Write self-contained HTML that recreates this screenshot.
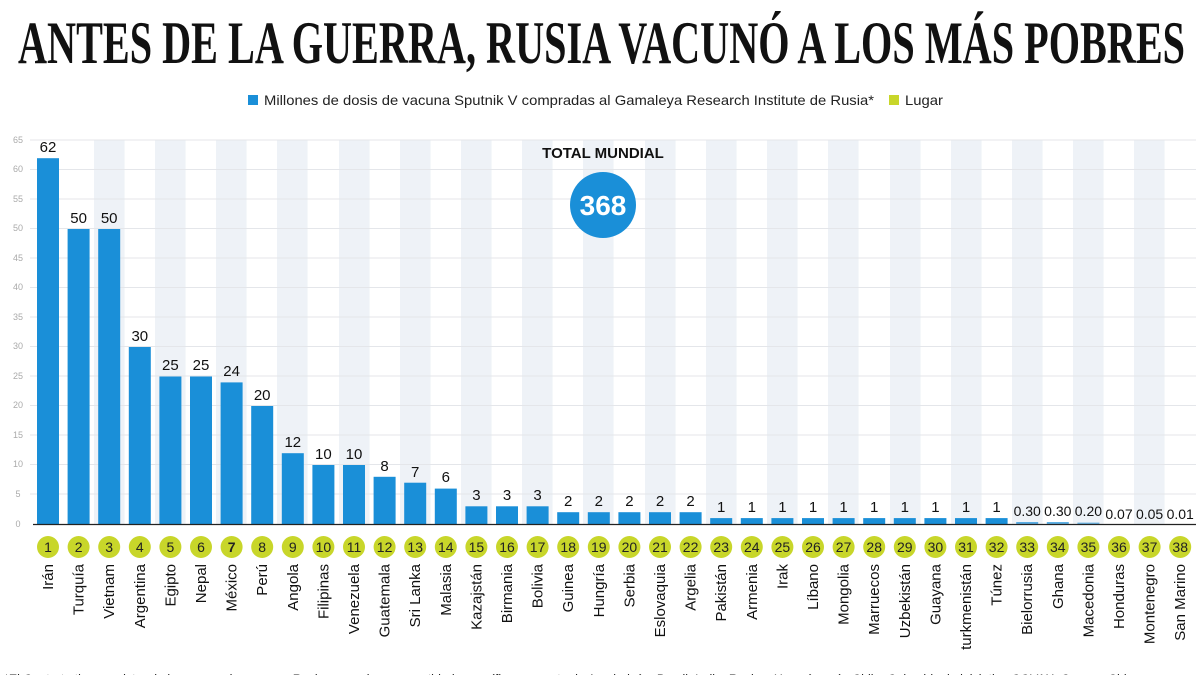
<!DOCTYPE html>
<html><head><meta charset="utf-8"><style>
html,body{margin:0;padding:0;background:#fff;width:1200px;height:675px;overflow:hidden}
svg{display:block;font-family:"Liberation Sans",sans-serif}
.v{font-size:15px;text-anchor:middle;fill:#111}
.vs{font-size:14px;text-anchor:middle;fill:#111}
.n{font-size:14px;text-anchor:middle;fill:#222}
.c{font-size:15px;text-anchor:end;fill:#111}
.y{font-size:9px;fill:#aaa;text-anchor:middle}
</style></head><body>
<svg width="1200" height="675" viewBox="0 0 1200 675">
<text x="18" y="63" font-family="Liberation Serif" font-weight="bold" font-size="60" textLength="1167" lengthAdjust="spacingAndGlyphs" fill="#111">ANTES DE LA GUERRA, RUSIA VACUNÓ A LOS MÁS POBRES</text>
<rect x="248" y="95" width="10" height="10" fill="#1a8fd8"/>
<text x="264" y="105" font-size="14" textLength="610" lengthAdjust="spacingAndGlyphs" fill="#222">Millones de dosis de vacuna Sputnik V compradas al Gamaleya Research Institute de Rusia*</text>
<rect x="889" y="95" width="10" height="10" fill="#c8d62a"/>
<text x="905" y="105" font-size="14" textLength="38" lengthAdjust="spacingAndGlyphs" fill="#222">Lugar</text>
<!-- bands -->
<g fill="#eef2f7">
<rect x="94" y="140" width="30.6" height="384"/><rect x="155" y="140" width="30.6" height="384"/><rect x="216" y="140" width="30.6" height="384"/><rect x="277" y="140" width="30.6" height="384"/><rect x="339" y="140" width="30.6" height="384"/><rect x="400" y="140" width="30.6" height="384"/><rect x="461" y="140" width="30.6" height="384"/><rect x="522" y="140" width="30.6" height="384"/><rect x="583" y="140" width="30.6" height="384"/><rect x="645" y="140" width="30.6" height="384"/><rect x="706" y="140" width="30.6" height="384"/><rect x="767" y="140" width="30.6" height="384"/><rect x="828" y="140" width="30.6" height="384"/><rect x="890" y="140" width="30.6" height="384"/><rect x="951" y="140" width="30.6" height="384"/><rect x="1012" y="140" width="30.6" height="384"/><rect x="1073" y="140" width="30.6" height="384"/><rect x="1134" y="140" width="30.6" height="384"/>
</g>
<g stroke="#e4e6ea" stroke-width="1">
<line x1="30" x2="1196" y1="140" y2="140"/><line x1="30" x2="1196" y1="169.5" y2="169.5"/><line x1="30" x2="1196" y1="199" y2="199"/><line x1="30" x2="1196" y1="228.5" y2="228.5"/><line x1="30" x2="1196" y1="258" y2="258"/><line x1="30" x2="1196" y1="287.5" y2="287.5"/><line x1="30" x2="1196" y1="317" y2="317"/><line x1="30" x2="1196" y1="346.5" y2="346.5"/><line x1="30" x2="1196" y1="376" y2="376"/><line x1="30" x2="1196" y1="405.5" y2="405.5"/><line x1="30" x2="1196" y1="435" y2="435"/><line x1="30" x2="1196" y1="464.5" y2="464.5"/><line x1="30" x2="1196" y1="494" y2="494"/>
</g>
<g class="y">
<text class="y" x="18" y="143">65</text><text class="y" x="18" y="172">60</text><text class="y" x="18" y="202">55</text><text class="y" x="18" y="231">50</text><text class="y" x="18" y="261">45</text><text class="y" x="18" y="290">40</text><text class="y" x="18" y="320">35</text><text class="y" x="18" y="349">30</text><text class="y" x="18" y="379">25</text><text class="y" x="18" y="408">20</text><text class="y" x="18" y="438">15</text><text class="y" x="18" y="467">10</text><text class="y" x="18" y="497">5</text><text class="y" x="18" y="527">0</text>
</g>
<text x="603" y="158" font-size="15" font-weight="bold" text-anchor="middle" fill="#111">TOTAL MUNDIAL</text>
<circle cx="603" cy="205" r="33" fill="#1a8fd8"/>
<text x="603" y="215" font-size="28" font-weight="bold" text-anchor="middle" fill="#fff">368</text>
<g fill="#1a8fd8">
<rect x="37" y="158.2" width="22" height="365.8"/><rect x="67.6" y="229" width="22" height="295"/><rect x="98.2" y="229" width="22" height="295"/><rect x="128.8" y="347" width="22" height="177"/><rect x="159.4" y="376.5" width="22" height="147.5"/><rect x="190" y="376.5" width="22" height="147.5"/><rect x="220.6" y="382.4" width="22" height="141.6"/><rect x="251.2" y="406" width="22" height="118"/><rect x="281.8" y="453.2" width="22" height="70.8"/><rect x="312.4" y="465" width="22" height="59"/><rect x="343" y="465" width="22" height="59"/><rect x="373.6" y="476.8" width="22" height="47.2"/><rect x="404.2" y="482.7" width="22" height="41.3"/><rect x="434.8" y="488.6" width="22" height="35.4"/><rect x="465.4" y="506.3" width="22" height="17.7"/><rect x="496" y="506.3" width="22" height="17.7"/><rect x="526.6" y="506.3" width="22" height="17.7"/><rect x="557.2" y="512.2" width="22" height="11.8"/><rect x="587.8" y="512.2" width="22" height="11.8"/><rect x="618.4" y="512.2" width="22" height="11.8"/><rect x="649" y="512.2" width="22" height="11.8"/><rect x="679.6" y="512.2" width="22" height="11.8"/><rect x="710.2" y="518.1" width="22" height="5.9"/><rect x="740.8" y="518.1" width="22" height="5.9"/><rect x="771.4" y="518.1" width="22" height="5.9"/><rect x="802" y="518.1" width="22" height="5.9"/><rect x="832.6" y="518.1" width="22" height="5.9"/><rect x="863.2" y="518.1" width="22" height="5.9"/><rect x="893.8" y="518.1" width="22" height="5.9"/><rect x="924.4" y="518.1" width="22" height="5.9"/><rect x="955" y="518.1" width="22" height="5.9"/><rect x="985.6" y="518.1" width="22" height="5.9"/><rect x="1016.2" y="522" width="22" height="2" opacity=".7"/><rect x="1046.8" y="522" width="22" height="2" opacity=".7"/><rect x="1077.4" y="522.6" width="22" height="1.4" opacity=".6"/>
</g>
<line x1="33" x2="1196" y1="524.5" y2="524.5" stroke="#222" stroke-width="1.2"/>
<g>
<text class="v" x="48" y="152">62</text><text class="v" x="78.6" y="223">50</text><text class="v" x="109.2" y="223">50</text><text class="v" x="139.8" y="341">30</text><text class="v" x="170.4" y="370">25</text><text class="v" x="201" y="370">25</text><text class="v" x="231.6" y="376">24</text><text class="v" x="262.2" y="400">20</text><text class="v" x="292.8" y="447">12</text><text class="v" x="323.4" y="459">10</text><text class="v" x="354" y="459">10</text><text class="v" x="384.6" y="471">8</text><text class="v" x="415.2" y="477">7</text><text class="v" x="445.8" y="482">6</text><text class="v" x="476.4" y="500">3</text><text class="v" x="507" y="500">3</text><text class="v" x="537.6" y="500">3</text><text class="v" x="568.2" y="506">2</text><text class="v" x="598.8" y="506">2</text><text class="v" x="629.4" y="506">2</text><text class="v" x="660" y="506">2</text><text class="v" x="690.6" y="506">2</text><text class="v" x="721.2" y="512">1</text><text class="v" x="751.8" y="512">1</text><text class="v" x="782.4" y="512">1</text><text class="v" x="813" y="512">1</text><text class="v" x="843.6" y="512">1</text><text class="v" x="874.2" y="512">1</text><text class="v" x="904.8" y="512">1</text><text class="v" x="935.4" y="512">1</text><text class="v" x="966" y="512">1</text><text class="v" x="996.6" y="512">1</text>
<text class="vs" x="1027.2" y="516">0.30</text><text class="vs" x="1057.8" y="516">0.30</text><text class="vs" x="1088.4" y="516">0.20</text><text class="vs" x="1119" y="519">0.07</text><text class="vs" x="1149.6" y="519">0.05</text><text class="vs" x="1180.2" y="519">0.01</text>
</g>
<g fill="#c8d62a">
<circle cx="48" cy="547" r="11"/><circle cx="78.6" cy="547" r="11"/><circle cx="109.2" cy="547" r="11"/><circle cx="139.8" cy="547" r="11"/><circle cx="170.4" cy="547" r="11"/><circle cx="201" cy="547" r="11"/><circle cx="231.6" cy="547" r="11"/><circle cx="262.2" cy="547" r="11"/><circle cx="292.8" cy="547" r="11"/><circle cx="323.4" cy="547" r="11"/><circle cx="354" cy="547" r="11"/><circle cx="384.6" cy="547" r="11"/><circle cx="415.2" cy="547" r="11"/><circle cx="445.8" cy="547" r="11"/><circle cx="476.4" cy="547" r="11"/><circle cx="507" cy="547" r="11"/><circle cx="537.6" cy="547" r="11"/><circle cx="568.2" cy="547" r="11"/><circle cx="598.8" cy="547" r="11"/><circle cx="629.4" cy="547" r="11"/><circle cx="660" cy="547" r="11"/><circle cx="690.6" cy="547" r="11"/><circle cx="721.2" cy="547" r="11"/><circle cx="751.8" cy="547" r="11"/><circle cx="782.4" cy="547" r="11"/><circle cx="813" cy="547" r="11"/><circle cx="843.6" cy="547" r="11"/><circle cx="874.2" cy="547" r="11"/><circle cx="904.8" cy="547" r="11"/><circle cx="935.4" cy="547" r="11"/><circle cx="966" cy="547" r="11"/><circle cx="996.6" cy="547" r="11"/><circle cx="1027.2" cy="547" r="11"/><circle cx="1057.8" cy="547" r="11"/><circle cx="1088.4" cy="547" r="11"/><circle cx="1119" cy="547" r="11"/><circle cx="1149.6" cy="547" r="11"/><circle cx="1180.2" cy="547" r="11"/>
</g>
<g>
<text class="n" x="48" y="552">1</text><text class="n" x="78.6" y="552">2</text><text class="n" x="109.2" y="552">3</text><text class="n" x="139.8" y="552">4</text><text class="n" x="170.4" y="552">5</text><text class="n" x="201" y="552">6</text><text class="n" x="231.6" y="552" font-weight="bold">7</text><text class="n" x="262.2" y="552">8</text><text class="n" x="292.8" y="552">9</text><text class="n" x="323.4" y="552">10</text><text class="n" x="354" y="552">11</text><text class="n" x="384.6" y="552">12</text><text class="n" x="415.2" y="552">13</text><text class="n" x="445.8" y="552">14</text><text class="n" x="476.4" y="552">15</text><text class="n" x="507" y="552">16</text><text class="n" x="537.6" y="552">17</text><text class="n" x="568.2" y="552">18</text><text class="n" x="598.8" y="552">19</text><text class="n" x="629.4" y="552">20</text><text class="n" x="660" y="552">21</text><text class="n" x="690.6" y="552">22</text><text class="n" x="721.2" y="552">23</text><text class="n" x="751.8" y="552">24</text><text class="n" x="782.4" y="552">25</text><text class="n" x="813" y="552">26</text><text class="n" x="843.6" y="552">27</text><text class="n" x="874.2" y="552">28</text><text class="n" x="904.8" y="552">29</text><text class="n" x="935.4" y="552">30</text><text class="n" x="966" y="552">31</text><text class="n" x="996.6" y="552">32</text><text class="n" x="1027.2" y="552">33</text><text class="n" x="1057.8" y="552">34</text><text class="n" x="1088.4" y="552">35</text><text class="n" x="1119" y="552">36</text><text class="n" x="1149.6" y="552">37</text><text class="n" x="1180.2" y="552">38</text>
</g>
<g>
<text class="c" transform="translate(53,564) rotate(-90)">Irán</text>
<text class="c" transform="translate(83.6,564) rotate(-90)">Turquía</text>
<text class="c" transform="translate(114.2,564) rotate(-90)">Vietnam</text>
<text class="c" transform="translate(144.8,564) rotate(-90)">Argentina</text>
<text class="c" transform="translate(175.4,564) rotate(-90)">Egipto</text>
<text class="c" transform="translate(206,564) rotate(-90)">Nepal</text>
<text class="c" transform="translate(236.6,564) rotate(-90)">México</text>
<text class="c" transform="translate(267.2,564) rotate(-90)">Perú</text>
<text class="c" transform="translate(297.8,564) rotate(-90)">Angola</text>
<text class="c" transform="translate(328.4,564) rotate(-90)">Filipinas</text>
<text class="c" transform="translate(359,564) rotate(-90)">Venezuela</text>
<text class="c" transform="translate(389.6,564) rotate(-90)">Guatemala</text>
<text class="c" transform="translate(420.2,564) rotate(-90)">Sri Lanka</text>
<text class="c" transform="translate(450.8,564) rotate(-90)">Malasia</text>
<text class="c" transform="translate(481.4,564) rotate(-90)">Kazajstán</text>
<text class="c" transform="translate(512,564) rotate(-90)">Birmania</text>
<text class="c" transform="translate(542.6,564) rotate(-90)">Bolivia</text>
<text class="c" transform="translate(573.2,564) rotate(-90)">Guinea</text>
<text class="c" transform="translate(603.8,564) rotate(-90)">Hungría</text>
<text class="c" transform="translate(634.4,564) rotate(-90)">Serbia</text>
<text class="c" transform="translate(665,564) rotate(-90)">Eslovaquia</text>
<text class="c" transform="translate(695.6,564) rotate(-90)">Argelia</text>
<text class="c" transform="translate(726.2,564) rotate(-90)">Pakistán</text>
<text class="c" transform="translate(756.8,564) rotate(-90)">Armenia</text>
<text class="c" transform="translate(787.4,564) rotate(-90)">Irak</text>
<text class="c" transform="translate(818,564) rotate(-90)">Líbano</text>
<text class="c" transform="translate(848.6,564) rotate(-90)">Mongolia</text>
<text class="c" transform="translate(879.2,564) rotate(-90)">Marruecos</text>
<text class="c" transform="translate(909.8,564) rotate(-90)">Uzbekistán</text>
<text class="c" transform="translate(940.4,564) rotate(-90)">Guayana</text>
<text class="c" transform="translate(971,564) rotate(-90)">turkmenistán</text>
<text class="c" transform="translate(1001.6,564) rotate(-90)">Túnez</text>
<text class="c" transform="translate(1032.2,564) rotate(-90)">Bielorrusia</text>
<text class="c" transform="translate(1062.8,564) rotate(-90)">Ghana</text>
<text class="c" transform="translate(1093.4,564) rotate(-90)">Macedonia</text>
<text class="c" transform="translate(1124,564) rotate(-90)">Honduras</text>
<text class="c" transform="translate(1154.6,564) rotate(-90)">Montenegro</text>
<text class="c" transform="translate(1185.2,564) rotate(-90)">San Marino</text>
</g>
<text x="4" y="684" font-size="14" textLength="1140" lengthAdjust="spacingAndGlyphs" fill="#222">*El Contrato tiene registro de la compra de vacunas Rusia, pero ninguna cantidad específica por parte de Azerbaiyán, Brasil, India, Rusia y Hungría: más Chile, Colombia, la iniciativa COVAX, Corea y China.</text>
</svg>
</body></html>
